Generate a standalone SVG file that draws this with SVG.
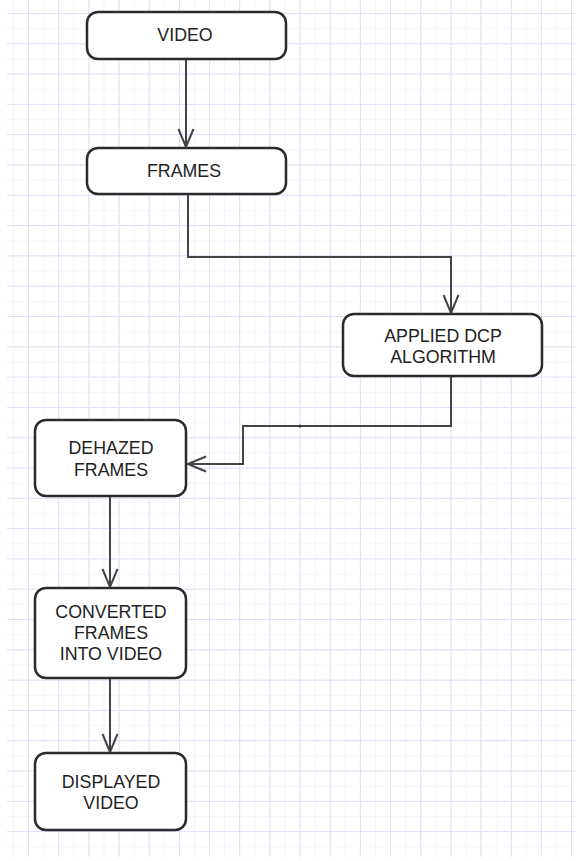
<svg xmlns="http://www.w3.org/2000/svg" width="576" height="861" viewBox="0 0 576 861">
<style>
.node rect{fill:#fff;stroke:#2b2b2b;stroke-width:2.5}
.node text{font-family:"Liberation Sans",Arial,sans-serif;font-size:17.8px;fill:#222;text-anchor:middle}
.conn path{fill:none;stroke:#444;stroke-width:2}
</style>
<defs>
<pattern id="minor" patternUnits="userSpaceOnUse" x="13" y="-2" width="15.085" height="15.15">
<path d="M0 0V15.15M0 0H15.085" stroke="#f2f2fc" stroke-width="1.5" fill="none"/>
</pattern>
<pattern id="major" patternUnits="userSpaceOnUse" x="28" y="13" width="30.17" height="30.3">
<path d="M0 0V30.3M0 0H30.17" stroke="#dfdff7" stroke-width="2" fill="none"/>
</pattern>
<marker id="arr" markerUnits="userSpaceOnUse" viewBox="0 0 20 20" refX="19" refY="10" markerWidth="20" markerHeight="20" orient="auto">
<path d="M1 2.5L19 10L1 17.5" fill="none" stroke="#444" stroke-width="2"/>
</marker>
</defs>
<rect width="576" height="861" fill="#fff"/>
<rect x="7" y="0" width="569" height="857" fill="url(#minor)"/>
<rect x="7" y="0" width="569" height="857" fill="url(#major)"/>
<g class="conn">
<path d="M186 59V147" marker-end="url(#arr)"/>
<path d="M188 194V257H451V313" marker-end="url(#arr)"/>
<path d="M451 376V426H243V464H188" marker-end="url(#arr)"/>
<path d="M110 497V587" marker-end="url(#arr)"/>
<path d="M110 678V752" marker-end="url(#arr)"/>
<circle cx="300" cy="426" r="1.6" fill="#333"/>
</g>
<g id="video" class="node"><rect x="87" y="12" width="199" height="47" rx="11"/><text x="185" y="41">VIDEO</text></g>
<g id="frames" class="node"><rect x="87" y="148" width="199" height="46" rx="11"/><text x="184" y="177">FRAMES</text></g>
<g id="dcp" class="node"><rect x="343" y="314" width="199" height="62" rx="11"/><text x="443" y="342">APPLIED DCP</text><text x="443" y="363">ALGORITHM</text></g>
<g id="dehazed" class="node"><rect x="35" y="420" width="151" height="76" rx="11"/><text x="111" y="454">DEHAZED</text><text x="111" y="476">FRAMES</text></g>
<g id="converted" class="node"><rect x="35" y="588" width="151" height="90" rx="11"/><text x="111" y="618">CONVERTED</text><text x="111" y="639">FRAMES</text><text x="111" y="660">INTO VIDEO</text></g>
<g id="displayed" class="node"><rect x="35" y="753" width="151" height="77" rx="11"/><text x="111" y="788">DISPLAYED</text><text x="111" y="809">VIDEO</text></g>
</svg>
